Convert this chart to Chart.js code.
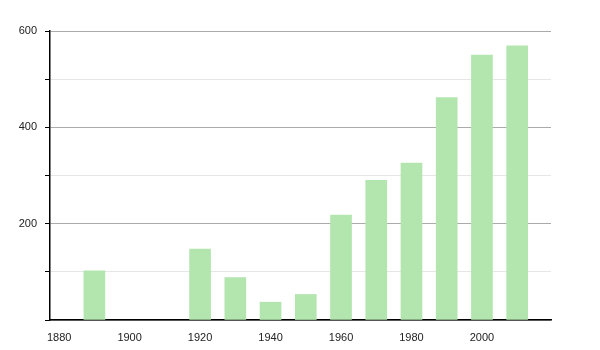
<!DOCTYPE html>
<html>
<head>
<meta charset="utf-8">
<script src="https://cdn.jsdelivr.net/npm/chart.js@4/dist/chart.umd.min.js"></script>
<style>
  html, body { margin: 0; padding: 0; background: #fff; }
  #wrap { width: 600px; height: 350px; }
</style>
</head>
<body>
<div id="wrap"><canvas id="chart"></canvas></div>
<script>
// data
const years = [1890, 1920, 1930, 1940, 1950, 1960, 1970, 1980, 1990, 2000, 2010];
const values = [102, 147, 88, 37, 53, 218, 290, 326, 462, 550, 569];
const xTicks = [1880, 1900, 1920, 1940, 1960, 1980, 2000];
const yLabels = [200, 400, 600];

const ctx = document.getElementById('chart').getContext('2d');
new Chart(ctx, {
  type: 'bar',
  data: {
    datasets: [{
      data: years.map((y, i) => ({ x: y, y: values[i] })),
      backgroundColor: '#b3e5ae',
      borderWidth: 0,
      barThickness: 21
    }]
  },
  options: {
    responsive: true,
    maintainAspectRatio: false,
    animation: false,
    layout: { padding: { top: 31, right: 49, left: 0, bottom: 0 } },
    plugins: { legend: { display: false }, tooltip: { enabled: false } },
    scales: {
      x: {
        type: 'linear',
        offset: false,
        min: 1877.4,
        max: 2019.6,
        afterBuildTicks: axis => { axis.ticks = xTicks.map(v => ({ value: v })); },
        afterFit: scale => { scale.height = 30; },
        grid: { display: false, offset: false },
        border: { display: true, color: '#000', width: 1.5 },
        ticks: {
          color: '#222',
          padding: 3,
          maxRotation: 0,
          autoSkip: false,
          font: { family: 'Liberation Sans, Arial, sans-serif', size: 11 },
          callback: v => String(v)
        }
      },
      y: {
        min: 0,
        max: 600,
        afterFit: scale => { scale.width = 50; },
        ticks: {
          stepSize: 100,
          color: '#222',
          padding: 8,
          font: { family: 'Liberation Sans, Arial, sans-serif', size: 11 },
          callback: v => yLabels.includes(v) ? String(v) : ''
        },
        grid: {
          drawTicks: true,
          tickLength: 5,
          tickColor: '#000',
          color: c => (c.tick && c.tick.value % 200 === 0) ? '#ababab' : '#e6e6e6',
          lineWidth: 1
        },
        border: { display: true, color: '#000', width: 1.5 }
      }
    }
  }
});
</script>
</body>
</html>
